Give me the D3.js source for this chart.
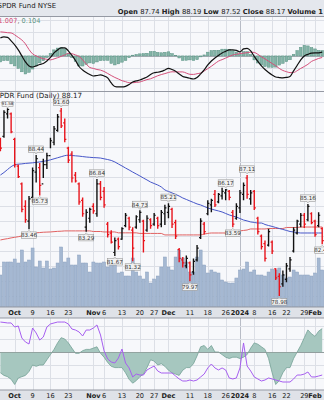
<!DOCTYPE html>
<html><head><meta charset="utf-8">
<script src="https://cdn.jsdelivr.net/npm/d3@7"></script>
<style>
body{margin:0;background:#fff;}
svg{display:block;font-family:"DejaVu Sans",Verdana,sans-serif;}
</style></head><body>
<svg id="c" width="324" height="400"></svg>
<script>
// ---------- DATA (bar index -4 = Sep 26 2023 ... 86 = Feb 5 2024) ----------
const barIndex = d3.range(-4, 87);
const opens  = [89.4,89.7,91.2,91.2,89.5,87.7,86.5,85.0,84.0,85.6,87.3,87.6,86.5,87.8,88.4,89.3,90.1,91.4,90.6,88.9,88.5,87.1,86.5,85.4,83.6,84.2,85.0,84.5,86.5,86.0,83.8,83.2,81.9,82.8,82.8,83.7,84.2,83.4,83.6,84.1,84.0,83.4,84.1,83.8,84.2,83.8,84.5,84.6,84.8,83.9,82.1,81.4,81.0,81.2,80.6,81.4,82.9,83.8,84.5,85.1,85.8,85.3,85.7,85.9,86.0,84.6,84.2,84.9,85.8,86.9,85.5,86.0,84.2,83.0,82.5,82.4,82.6,80.8,80.3,79.8,80.1,80.8,82.0,83.2,83.8,84.4,84.1,84.5,84.0,83.7,83.5];
const highs  = [89.6,91.45,91.58,91.3,89.6,87.8,86.6,85.4,85.7,87.6,88.44,87.9,88.2,88.6,89.6,90.4,91.2,91.60,90.9,89.0,88.7,87.3,86.6,85.6,84.8,84.9,85.2,86.84,86.7,86.3,83.95,83.4,82.9,82.9,83.6,84.55,84.3,83.6,84.4,84.73,84.1,84.4,84.2,84.55,84.3,84.75,85.1,85.21,84.9,84.1,82.2,81.6,81.7,81.3,81.5,82.4,84.2,83.95,85.4,85.5,86.1,85.9,86.25,86.17,86.1,84.75,85.2,86.1,86.6,87.11,86.1,86.1,84.3,83.1,82.7,83.5,82.7,80.85,80.5,80.7,81.2,81.6,83.6,84.1,84.55,84.55,85.16,84.6,84.1,84.6,83.6];
const lows   = [88.7,89.6,90.9,89.9,87.6,86.9,84.6,83.9,83.46,85.3,86.6,85.73,86.9,87.5,88.9,89.1,90.0,90.25,89.3,87.9,86.6,86.6,85.1,84.3,83.29,83.9,84.5,84.3,85.4,84.9,82.9,82.5,81.67,82.1,82.75,83.6,83.4,81.32,83.5,83.9,81.9,83.3,83.5,83.7,83.5,83.6,83.75,84.2,83.55,82.8,81.25,80.9,80.85,79.97,80.4,81.3,82.8,83.1,84.4,84.6,84.95,85.2,85.45,85.4,85.4,83.59,84.1,84.55,85.4,85.5,85.1,84.75,83.1,82.1,81.3,82.3,81.8,80.05,78.98,79.6,79.9,80.6,81.9,83.1,83.6,83.55,84.0,83.8,82.95,83.6,82.45];
const closes = [88.9,91.3,91.5,90.0,87.8,87.0,84.8,84.1,85.5,87.4,88.2,86.4,87.8,88.4,89.4,90.2,91.0,90.4,89.5,88.1,86.9,86.7,85.3,84.5,84.6,84.8,84.7,86.5,85.6,85.1,83.1,82.6,82.7,82.3,83.5,84.4,83.6,82.2,84.3,84.6,82.7,84.2,83.7,84.4,83.7,84.6,84.9,85.0,83.8,83.0,81.5,81.2,81.5,80.4,81.3,82.2,84.0,83.3,85.2,85.4,85.1,85.8,86.0,86.1,85.6,83.8,85.0,85.9,86.4,85.8,85.9,84.9,83.3,82.3,81.5,83.3,82.0,80.2,79.6,80.4,81.0,81.4,83.4,84.0,84.4,83.8,85.0,83.9,83.1,84.4,82.7];
const volumes = [16,22.5,22.5,22.5,24,22,28.5,22.5,23.5,29.5,20,23,19.5,23,19,19.5,22,30,22.5,24.5,21,21,26,22,22,17.5,22.5,22,22,22.5,20,23.5,22.5,17,17.5,15.5,15.5,24.5,17.5,15.5,14,17.5,12,14,15.5,20,25,20,18.5,25,28.5,24.5,22.5,17.5,17.5,25,28.5,21,17,18.5,17.5,17,13.5,12.5,12,12,14.5,18.5,19,22.5,17.5,18.5,16,16,15.5,17.5,19,18.5,19.5,16,14.5,15,18.5,17.5,16,16,16,15.5,17,24.5,18.5];
const ma50  = [87.10,87.27,87.47,87.66,87.79,87.83,87.85,87.88,87.90,87.92,87.95,87.98,88.02,88.06,88.12,88.19,88.26,88.33,88.40,88.43,88.41,88.39,88.37,88.34,88.31,88.29,88.27,88.26,88.24,88.19,88.14,88.08,87.98,87.84,87.71,87.57,87.44,87.30,87.17,87.04,86.90,86.77,86.63,86.53,86.43,86.30,86.10,86.00,85.90,85.80,85.69,85.56,85.46,85.36,85.26,85.16,85.09,84.99,84.89,84.82,84.75,84.69,84.62,84.52,84.42,84.35,84.28,84.18,84.08,84.02,83.95,83.92,83.88,83.88,83.78,83.71,83.65,83.58,83.51,83.45,83.38,83.31,83.28,83.24,83.21,83.21,83.21,83.21,83.21,83.21,83.21];
const ma200 = [82.74,82.79,82.83,82.88,82.92,82.96,83.01,83.08,83.14,83.20,83.22,83.24,83.26,83.27,83.28,83.30,83.32,83.33,83.35,83.35,83.35,83.35,83.35,83.35,83.35,83.35,83.31,83.31,83.31,83.28,83.28,83.28,83.28,83.22,83.22,83.22,83.22,83.22,83.22,83.18,83.18,83.18,83.18,83.18,83.18,83.18,83.08,83.08,83.08,83.08,83.08,83.08,83.08,83.08,83.08,83.08,83.08,83.14,83.18,83.21,83.21,83.21,83.21,83.21,83.21,83.28,83.31,83.35,83.38,83.41,83.48,83.48,83.48,83.48,83.48,83.51,83.51,83.51,83.51,83.51,83.58,83.58,83.58,83.58,83.61,83.61,83.61,83.61,83.61,83.61,83.61];
const macdLine = [1.50,1.58,1.54,1.25,0.92,0.50,0.00,-0.50,-0.83,-0.92,-0.83,-0.71,-0.63,-0.42,-0.13,0.25,0.50,0.67,0.67,0.42,0.04,-0.38,-0.88,-1.17,-1.38,-1.54,-1.67,-1.63,-1.58,-1.67,-1.83,-2.25,-2.54,-2.58,-2.58,-2.53,-2.38,-2.17,-2.08,-2.00,-1.88,-1.75,-1.54,-1.40,-1.36,-1.29,-1.17,-1.04,-1.13,-1.28,-1.50,-1.71,-1.79,-1.86,-1.92,-1.79,-1.50,-1.17,-0.75,-0.42,-0.17,0.04,0.25,0.38,0.50,0.50,0.46,0.33,0.58,0.63,0.42,-0.04,-0.46,-0.83,-1.13,-1.38,-1.58,-1.75,-1.80,-1.83,-1.79,-1.71,-1.25,-0.79,-0.33,0.00,0.13,0.23,0.25,0.25,0.31];
const signalLine = [2.00,1.97,1.93,1.91,1.75,1.54,1.32,1.00,0.53,0.17,0.00,-0.13,-0.23,-0.28,-0.33,-0.25,-0.15,-0.04,0.08,0.21,0.18,0.08,-0.04,-0.33,-0.67,-0.96,-1.04,-1.13,-1.18,-1.29,-1.46,-1.63,-1.79,-1.92,-2.06,-2.14,-2.23,-2.23,-2.20,-2.17,-2.07,-1.97,-1.90,-1.78,-1.65,-1.55,-1.47,-1.38,-1.32,-1.33,-1.33,-1.33,-1.43,-1.53,-1.54,-1.48,-1.42,-1.25,-1.06,-0.86,-0.64,-0.43,-0.31,-0.18,-0.05,0.08,0.14,0.20,0.23,0.27,0.31,0.29,0.13,-0.07,-0.25,-0.44,-0.63,-0.82,-1.04,-1.21,-1.31,-1.39,-1.38,-1.23,-1.04,-0.88,-0.70,-0.46,-0.33,-0.21,-0.13];
const histogram = [-0.50,-0.39,-0.39,-0.66,-0.83,-1.04,-1.32,-1.50,-1.36,-1.09,-0.83,-0.58,-0.40,-0.14,0.20,0.50,0.65,0.71,0.59,0.21,-0.14,-0.46,-0.84,-0.84,-0.71,-0.58,-0.63,-0.50,-0.40,-0.38,-0.37,-0.62,-0.75,-0.66,-0.52,-0.39,-0.15,0.06,0.12,0.17,0.19,0.22,0.36,0.38,0.29,0.26,0.30,0.34,0.19,0.05,-0.17,-0.38,-0.36,-0.33,-0.38,-0.31,-0.08,0.08,0.31,0.44,0.47,0.47,0.56,0.56,0.55,0.42,0.32,0.13,0.35,0.36,0.11,-0.33,-0.59,-0.76,-0.88,-0.94,-0.95,-0.93,-0.76,-0.62,-0.48,-0.32,0.13,0.44,0.71,0.88,0.83,0.69,0.58,0.46,0.44];
const flowArea = [-0.16,-0.18,-0.19,-0.21,-0.25,-0.20,-0.19,-0.18,-0.15,-0.10,-0.11,-0.10,-0.10,-0.06,-0.02,0.02,0.07,0.11,0.10,0.07,0.03,-0.01,-0.01,0.01,0.02,0.02,0.03,0.04,-0.01,-0.04,-0.08,-0.11,-0.12,-0.12,-0.12,-0.16,-0.21,-0.24,-0.22,-0.19,-0.17,-0.12,-0.06,-0.07,-0.10,-0.09,-0.11,-0.14,-0.16,-0.17,-0.18,-0.14,-0.12,-0.12,-0.09,-0.03,0.04,0.05,0.02,0.05,0.00,0.00,-0.02,-0.04,-0.05,-0.04,-0.04,-0.05,-0.04,-0.02,0.03,0.07,0.06,0.04,0.02,-0.05,-0.16,-0.25,-0.22,-0.16,-0.12,-0.12,-0.05,0.00,0.05,0.11,0.17,0.14,0.12,0.16,0.18];
const purpleLine = [94.4,93.8,93.1,93.1,87.5,88.9,72.2,66.7,63.9,86.1,79.2,69.4,73.6,87.5,91.7,93.1,94.4,94.4,94.4,91.7,84.7,83.3,80.6,75.0,83.3,83.3,86.1,90.3,76.4,54.2,43.1,38.9,37.5,44.4,56.9,37.5,30.6,18.1,22.2,20.8,20.8,27.8,30.6,33.3,26.4,23.6,23.6,23.6,23.6,19.4,15.3,12.5,12.5,13.9,12.5,13.9,18.1,22.2,30.6,36.1,30.6,27.8,30.6,27.8,16.7,15.3,16.7,30.6,65.3,33.3,26.4,18.1,15.3,12.5,13.9,16.7,15.3,13.9,12.5,11.1,11.1,11.1,15.3,20.8,20.8,22.2,25.0,18.1,18.1,19.4,20.8];
const tickIdx    = [0,5,10,15,22,25,30,35,39,43,49,54,59,63,67,72,76,81,84];
const tickLabels = ["Oct","9","16","23","Nov","6","13","20","27","Dec","11","18","26","2024","8","16","22","29","Feb"];
const monthTicks = ["Oct","Nov","Dec","2024","Feb"];
const swingIdx   = [-2,4,6,7,13,20,23,28,33,35,43,49,59,61,65,74,82,86];
const swingText  = ["91.58","83.46","88.44","85.73","91.60","83.29","86.84","81.67","81.32","84.73","85.21","79.97","86.17","83.59","87.11","78.98","85.16","82.45"];
const swingType  = ["H","L","H","L","H","L","H","L","L","H","H","L","H","L","H","L","H","L"];
const priceGrid  = [79,80,81,82,83,84,85,86,87,88,89,90,91,92];
const macdGrid   = [-2,-1,0,1,2,3];
const flowGrid   = [-0.2,-0.1,0,0.1,0.2];

// ---------- LAYOUT ----------
const svg = d3.select("#c");
const W = 324;
const x = d3.scaleLinear().domain([-4, 86]).range([0.4, 322.2]);
const pan = {macd:[16.5, 91.5], price:[91.5, 307], ind:[318, 390]};
const yPrice = d3.scaleLinear().domain([78.98, 91.60]).range([296, 108]);
const yVol   = d3.scaleLinear().domain([0, 50]).range([307, 207]);
const yMacd  = d3.scaleLinear().domain([-3, 3.4]).range([92, 15]);
const yFlow  = d3.scaleLinear().domain([-0.2, 0.2]).range([378, 326]);
const yPur   = d3.scaleLinear().domain([0, 100]).range([390, 318]);

const defs = svg.append("defs");
Object.entries(pan).forEach(([k, [t, b]]) => {
  defs.append("clipPath").attr("id", "clip-" + k)
    .append("rect").attr("x", 0).attr("y", t).attr("width", W).attr("height", b - t);
});

svg.append("rect").attr("x",0).attr("y",0).attr("width",W).attr("height",400).attr("fill","#ffffff");
svg.append("rect").attr("x",0).attr("y",0).attr("width",W).attr("height",16.5).attr("fill","#e4e7ed");
Object.values(pan).forEach(([t,b]) => {
  svg.append("rect").attr("x",0).attr("y",t).attr("width",W).attr("height",b-t).attr("fill","#f7f8fb");
});
[[307,318],[390,400]].forEach(([t,b]) => {
  svg.append("rect").attr("x",0).attr("y",t).attr("width",W).attr("height",b-t).attr("fill","#dfe2e8");
});

Object.entries(pan).forEach(([k,[t,b]]) => {
  svg.append("g").selectAll("line").data(tickIdx).join("line")
    .attr("x1", d => Math.round(x(d)) + 0.5).attr("x2", d => Math.round(x(d)) + 0.5)
    .attr("y1", t).attr("y2", b)
    .attr("stroke", (d,i) => tickLabels[i] === "2024" ? "#b8bcc6" : "#dcdfe6")
    .attr("stroke-width", 1);
});
function hgrid(vals, sc, key, zeroDark) {
  svg.append("g").attr("clip-path", `url(#clip-${key})`)
    .selectAll("line").data(vals).join("line")
    .attr("x1", 0).attr("x2", W)
    .attr("y1", d => Math.round(sc(d)) + 0.5).attr("y2", d => Math.round(sc(d)) + 0.5)
    .attr("stroke", d => (zeroDark && d === 0) ? "#a9adb6" : "#dcdfe6");
}
hgrid(priceGrid, yPrice, "price", false);
hgrid(macdGrid, yMacd, "macd", true);
hgrid(flowGrid, yFlow, "ind", true);

// ---------- MACD PANEL ----------
const gM = svg.append("g").attr("clip-path", "url(#clip-macd)");
gM.selectAll("rect.h").data(histogram).join("rect").attr("class","h")
  .attr("x", (d,i) => x(barIndex[i]) - 1.3)
  .attr("width", 2.6)
  .attr("y", d => Math.min(yMacd(d), yMacd(0)))
  .attr("height", d => Math.abs(yMacd(d) - yMacd(0)))
  .attr("fill", "#82b3a6").attr("stroke", "#5a9283").attr("stroke-width", 0.5);
gM.append("path").datum(signalLine)
  .attr("d", d3.line().x((d,i) => x(barIndex[i])).y(d => yMacd(d)).curve(d3.curveMonotoneX))
  .attr("fill","none").attr("stroke","#d4507a").attr("stroke-width",1);
gM.append("path").datum(macdLine)
  .attr("d", d3.line().x((d,i) => x(barIndex[i])).y(d => yMacd(d)).curve(d3.curveMonotoneX))
  .attr("fill","none").attr("stroke","#111").attr("stroke-width",1.2);

// ---------- PRICE PANEL ----------
const gP = svg.append("g").attr("clip-path", "url(#clip-price)");
gP.selectAll("rect.v").data(volumes).join("rect").attr("class","v")
  .attr("x", (d,i) => x(barIndex[i]) - 1.5)
  .attr("width", 3)
  .attr("y", d => yVol(d))
  .attr("height", d => yVol(0) - yVol(d))
  .attr("fill", "#a5b8d2").attr("stroke", "#8aa0be").attr("stroke-width", 0.5);
gP.append("path").datum(ma200)
  .attr("d", d3.line().x((d,i) => x(barIndex[i])).y(d => yPrice(d)).curve(d3.curveMonotoneX))
  .attr("fill","none").attr("stroke","#e06060").attr("stroke-width",1);
gP.append("path").datum(ma50)
  .attr("d", d3.line().x((d,i) => x(barIndex[i])).y(d => yPrice(d)).curve(d3.curveMonotoneX))
  .attr("fill","none").attr("stroke","#4656c8").attr("stroke-width",1);

const barCol = i => (i === 0 || closes[i] < closes[i-1]) ? "#e8141c" : "#111";
const gB = gP.append("g");
barIndex.forEach((bi, i) => {
  const cx = x(bi), c = barCol(i);
  gB.append("line").attr("x1",cx).attr("x2",cx).attr("y1",yPrice(highs[i])).attr("y2",yPrice(lows[i]))
    .attr("stroke",c).attr("stroke-width",1.4);
  gB.append("line").attr("x1",cx-1.6).attr("x2",cx).attr("y1",yPrice(opens[i])).attr("y2",yPrice(opens[i]))
    .attr("stroke",c).attr("stroke-width",1.2);
  gB.append("line").attr("x1",cx).attr("x2",cx+1.6).attr("y1",yPrice(closes[i])).attr("y2",yPrice(closes[i]))
    .attr("stroke",c).attr("stroke-width",1.2);
});

const gL = gP.append("g").attr("fill", "#333");
swingIdx.forEach((bi, k) => {
  const i = bi + 4;
  const cx = x(bi);
  const isH = swingType[k] === "H";
  const small = k === 0;
  const py = isH ? yPrice(highs[i]) : yPrice(lows[i]);
  const bw = small ? 11 : 15, bh = small ? 5 : 6.5;
  const gap = small ? 2 : 2.6;
  const by = isH ? py - gap - bh : py + gap;
  const g = gL.append("g");
  g.append("rect").attr("x", cx - bw/2).attr("y", by).attr("width", bw).attr("height", bh)
    .attr("fill", "#f2f2f2").attr("stroke", "#9a9a9a").attr("stroke-width", 0.6);
  const ty = isH ? by + bh : by;
  g.append("path").attr("d", isH ? `M${cx-1.5},${ty} L${cx},${ty+1.6} L${cx+1.5},${ty}` : `M${cx-1.5},${ty} L${cx},${ty-1.6} L${cx+1.5},${ty}`)
    .attr("fill", "#f2f2f2").attr("stroke", "#9a9a9a").attr("stroke-width", 0.6);
  g.append("text").attr("x", cx).attr("y", by + bh - (small ? 1 : 1.2)).attr("text-anchor","middle")
    .attr("font-size", small ? 4.2 : 5.6).text(swingText[k]);
});

// ---------- INDICATOR PANEL ----------
const gI = svg.append("g").attr("clip-path", "url(#clip-ind)");
gI.append("path").datum(flowArea)
  .attr("d", d3.area().x((d,i) => x(barIndex[i])).y0(yFlow(0)).y1(d => yFlow(d)))
  .attr("fill", "#a6c7bf").attr("stroke", "none");
gI.append("path").datum(flowArea)
  .attr("d", d3.line().x((d,i) => x(barIndex[i])).y(d => yFlow(d)))
  .attr("fill", "none").attr("stroke", "#74a196").attr("stroke-width", 0.8);
gI.append("line").attr("x1",0).attr("x2",W).attr("y1",Math.round(yFlow(0))+0.5).attr("y2",Math.round(yFlow(0))+0.5)
  .attr("stroke","#8d9a98").attr("stroke-width",0.8);
gI.append("path").datum(purpleLine)
  .attr("d", d3.line().x((d,i) => x(barIndex[i])).y(d => yPur(d)))
  .attr("fill","none").attr("stroke","#a65ef0").attr("stroke-width",1);

[16.5, 91.5, 307, 318, 390].forEach(y => {
  svg.append("line").attr("x1",0).attr("x2",W).attr("y1",y).attr("y2",y).attr("stroke","#9599a3").attr("stroke-width",1);
});

[314.8, 397.8].forEach(ty => {
  svg.append("g").selectAll("text").data(tickIdx).join("text")
    .attr("x", d => x(d)).attr("y", ty).attr("text-anchor","middle")
    .attr("font-size", 6.6)
    .attr("font-weight", (d,i) => monthTicks.includes(tickLabels[i]) ? "bold" : "normal")
    .attr("fill", "#222")
    .text((d,i) => tickLabels[i]);
});

svg.append("text").attr("x", -2.5).attr("y", 7.5).attr("font-size", 7).attr("fill","#222").text("SPDR Fund NYSE");
const hdr = svg.append("text").attr("x", 323).attr("y", 14).attr("font-size", 6.8).attr("text-anchor","end").attr("fill","#222");
[["Open ",true],["87.74 ",false],["High ",true],["88.19 ",false],["Low ",true],["87.52 ",false],["Close ",true],["88.17 ",false],["Volume 1",true]]
  .forEach(([t,b]) => hdr.append("tspan").attr("font-weight", b ? "bold" : "normal").text(t));
const mt = svg.append("text").attr("x", -1.5).attr("y", 23).attr("font-size", 6.6);
mt.append("tspan").attr("fill","#d4507a").text("1.007");
mt.append("tspan").attr("fill","#555").text(", ");
mt.append("tspan").attr("fill","#5f9585").text("0.104");
svg.append("text").attr("x", -4.8).attr("y", 97.6).attr("font-size", 7.1).attr("fill","#222").text("SPDR Fund (Daily) 88.17");
</script>
</body></html>
